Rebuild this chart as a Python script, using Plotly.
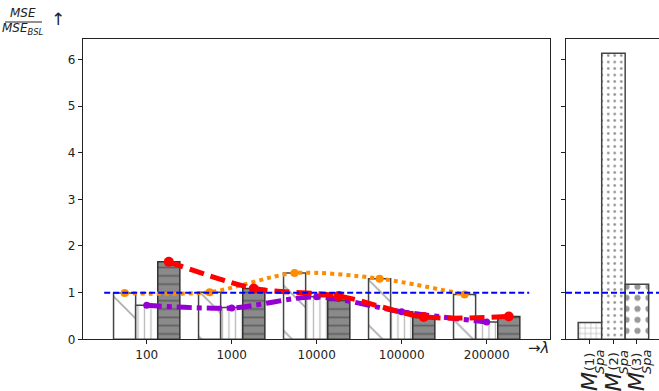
import plotly.graph_objects as go

# ---------------- data ----------------
categories = ["100", "1000", "10000", "100000", "200000"]
bar_diag = [0.99, 1.01, 1.42, 1.30, 0.96]      # white, "\" hatch
bar_vert = [0.73, 0.68, 0.91, 0.59, 0.37]      # white, "|" hatch
bar_grey = [1.66, 1.09, 0.84, 0.48, 0.49]      # grey, "-" hatch
line_orange = [0.99, 1.01, 1.42, 1.30, 0.96]
line_purple = [0.73, 0.67, 0.91, 0.59, 0.37]
line_red = [1.66, 1.09, 0.93, 0.48, 0.49]
baseline = 1.0

spa_labels = ["(1)", "(2)", "(3)"]
spa_values = [0.36, 6.13, 1.18]

W, H = 659, 391
FONT = "DejaVu Sans"
idx = list(range(len(categories)))
BW = 0.26
offsets = [-1.5 * BW, -0.5 * BW, 0.5 * BW]

fig = go.Figure()

# left panel bars
fig.add_trace(go.Bar(
    x=idx, y=bar_diag, width=BW, offset=offsets[0], xaxis="x", yaxis="y",
    marker=dict(color="white", line=dict(color="#444", width=1.5),
                pattern=dict(shape="\\", size=32, solidity=0.05, fgcolor="#555", bgcolor="white")),
    showlegend=False))
fig.add_trace(go.Bar(
    x=idx, y=bar_vert, width=BW, offset=offsets[1], xaxis="x", yaxis="y",
    marker=dict(color="white", line=dict(color="#444", width=1.5),
                pattern=dict(shape="|", size=6.5, solidity=0.2, fgcolor="#777", bgcolor="white")),
    showlegend=False))
fig.add_trace(go.Bar(
    x=idx, y=bar_grey, width=BW, offset=offsets[2], xaxis="x", yaxis="y",
    marker=dict(color="#8a8a8a", line=dict(color="#333", width=1.5),
                pattern=dict(shape="-", size=8.3, solidity=0.2, fgcolor="#333", bgcolor="#8a8a8a")),
    showlegend=False))

# lines through bar centres
def centres(k):
    return [i + offsets[k] + BW / 2 for i in idx]

fig.add_trace(go.Scatter(
    x=centres(0), y=line_orange, mode="lines+markers", xaxis="x", yaxis="y",
    line=dict(color="darkorange", width=4, dash="dot", shape="spline", smoothing=0.8),
    marker=dict(size=8, color="darkorange"), showlegend=False))
fig.add_trace(go.Scatter(
    x=centres(1), y=line_purple, mode="lines+markers", xaxis="x", yaxis="y",
    line=dict(color="darkviolet", width=5, dash="dashdot", shape="spline", smoothing=0.8),
    marker=dict(size=7, color="darkviolet"), showlegend=False))
fig.add_trace(go.Scatter(
    x=centres(2), y=line_red, mode="lines+markers", xaxis="x", yaxis="y",
    line=dict(color="red", width=5, dash="15px,7px", shape="spline", smoothing=0.8),
    marker=dict(size=10, color="red"), showlegend=False))

# right panel bars
fig.add_trace(go.Bar(
    x=[0, 1, 2], y=spa_values, width=1, xaxis="x2", yaxis="y2",
    marker=dict(color="white", line=dict(color="#444", width=1.5),
                pattern=dict(shape=["+", ".", "."], size=[5.5, 6.5, 11],
                             solidity=[0.2, 0.13, 0.25],
                             fgcolor=["#555", "#222", "#333"], bgcolor="white")),
    showlegend=False))

# baseline lines
fig.add_shape(type="line", xref="x", yref="y", x0=-0.5, x1=len(categories) - 0.5,
              y0=baseline, y1=baseline, line=dict(color="blue", width=2, dash="6px,3px"))
fig.add_shape(type="line", xref="x2 domain", yref="y2", x0=0, x1=1,
              y0=baseline, y1=baseline, line=dict(color="blue", width=2, dash="6px,3px"))

ydom = [1 - 339.3 / H, 1 - 39.3 / H]
axcol = "#222"
fig.update_layout(
    width=W, height=H, margin=dict(l=0, r=0, t=0, b=0),
    paper_bgcolor="white", plot_bgcolor="white",
    barmode="overlay",
    font=dict(family=FONT, size=12, color="#222"),
    xaxis=dict(domain=[82.7 / W, 550 / W], range=[-0.753, 4.745], anchor="y",
               tickvals=idx, ticktext=categories, ticks="outside", ticklen=4,
               tickcolor=axcol, showline=True, linecolor=axcol, linewidth=1,
               mirror=True, showgrid=False, zeroline=False, automargin=False),
    yaxis=dict(domain=ydom, range=[0, 6.43], anchor="x", tickvals=[0, 1, 2, 3, 4, 5, 6],
               ticks="outside", ticklen=4, tickcolor=axcol, showline=True,
               linecolor=axcol, linewidth=1, mirror=True, showgrid=False,
               zeroline=False, automargin=False),
    xaxis2=dict(domain=[566 / W, 1.0], range=[-1.02, 2.94], anchor="y2",
                tickvals=[0, 1, 2], showticklabels=False, ticks="outside", ticklen=4,
                tickcolor=axcol, showline=True, linecolor=axcol, linewidth=1,
                mirror=True, showgrid=False, zeroline=False, automargin=False),
    yaxis2=dict(domain=ydom, range=[0, 6.43], anchor="x2", tickvals=[0, 1, 2, 3, 4, 5, 6],
                showticklabels=False, ticks="outside", ticklen=4, tickcolor=axcol,
                showline=True, linecolor=axcol, linewidth=1, mirror=False,
                showgrid=False, zeroline=False, automargin=False),
)

def px(x):
    return x / W

def py(y):
    return 1 - y / H

ann = []
# y-axis label as a fraction
ann.append(dict(x=px(23), y=py(13), text="<i>MSE</i>", font=dict(size=12)))
ann.append(dict(x=px(23), y=py(29), text="<i>MSE</i><sub><i>BSL</i></sub>", font=dict(size=12)))
ann.append(dict(x=px(58), y=py(19), text="↑", font=dict(size=17)))
# x-axis arrow label
ann.append(dict(x=px(538), y=py(348), text="→<i>λ</i>", font=dict(size=15)))

# right panel labels (rotated)
for i, lab in enumerate(spa_labels):
    xc = 590 + 23.5 * i
    ann.append(dict(x=px(xc - 1), y=py(382), text="<i>M</i>", textangle=-90,
                    font=dict(size=22)))
    ann.append(dict(x=px(xc - 1), y=py(362), text=lab, textangle=-90,
                    font=dict(size=13)))
    ann.append(dict(x=px(xc + 9), y=py(362), text="<i>Spa</i>", textangle=-90,
                    font=dict(size=13)))

for a in ann:
    a.update(xref="paper", yref="paper", showarrow=False,
             xanchor="center", yanchor="middle")
    fig.add_annotation(**a)

fig.add_shape(type="line", xref="paper", yref="paper", x0=px(5), x1=px(42),
              y0=py(22), y1=py(22), line=dict(color="#222", width=1))

fig.write_html("out.html", config={"displayModeBar": False},
               post_script="document.body.style.margin='0px';document.body.style.overflow='hidden';")
